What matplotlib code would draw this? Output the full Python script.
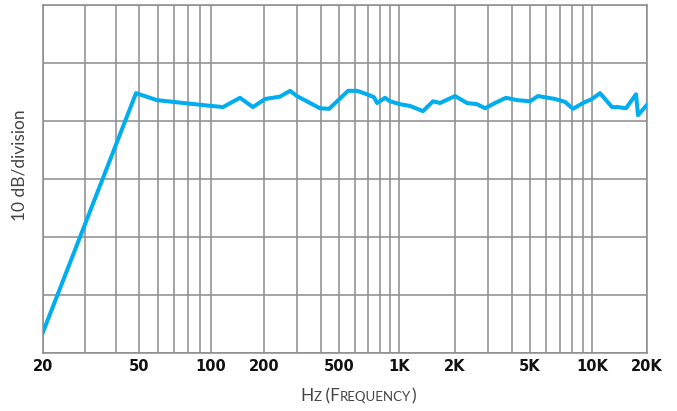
import numpy as np
import matplotlib
matplotlib.use("Agg")
from matplotlib import pyplot as plt
from matplotlib.ticker import FixedLocator, NullFormatter

# frequency response (Hz, dB)
freq = [20, 48.6, 59.4, 69.4, 89.9, 117, 146, 173, 203, 243, 275, 299, 396, 443,
        555, 616, 691, 749, 776, 851, 901, 1012, 1146, 1346, 1523, 1661, 2000,
        2316, 2617, 2885, 3260, 3729, 4266, 5000, 5467, 6614, 7393, 8086, 9044,
        10000, 11060, 12870, 13880, 15350, 17410, 17860, 20000]
level = [3.6, 44.8, 43.6, 43.3, 42.8, 42.4, 44.0, 42.4, 43.8, 44.2, 45.2, 44.3,
         42.2, 42.1, 45.2, 45.2, 44.6, 44.1, 43.1, 44.0, 43.4, 42.9, 42.6, 41.7,
         43.4, 43.1, 44.3, 43.1, 42.9, 42.2, 43.1, 44.0, 43.6, 43.4, 44.3, 43.8,
         43.3, 42.1, 43.1, 43.8, 44.8, 42.4, 42.4, 42.2, 44.6, 41.0, 42.8]

tick_vals = [20, 50, 100, 200, 500, 1000, 2000, 5000, 10000, 20000]
tick_labels = ['20', '50', '100', '200', '500', '1K', '2K', '5K', '10K', '20K']
grid_vals = [20, 30, 40, 50, 60, 70, 80, 90, 100, 200, 300, 400, 500, 600, 700,
             800, 900, 1000, 2000, 3000, 4000, 5000, 6000, 7000, 8000, 9000,
             10000, 20000]

# the printed axis is not a clean log scale (low end is stretched),
# so map log10(f) piecewise onto the drawn gridline spacing
anchor_f = np.log10(tick_vals)
anchor_px = np.array([43, 139, 211, 264, 339, 399, 455, 530, 592, 647], float)


def fwd(x):
    x = np.clip(np.asarray(x, float), 1e-3, None)
    return np.interp(np.log10(x), anchor_f, anchor_px)


def inv(p):
    return 10 ** np.interp(np.asarray(p, float), anchor_px, anchor_f)


W, H = 677, 411
fig = plt.figure(figsize=(W / 100, H / 100), dpi=100)
ax = fig.add_axes([43 / W, (H - 353) / H, 604 / W, 348 / H])

grid_col = '#8c8c8c'
ax.plot(freq, level, color='#00aeef', lw=2.9, solid_joinstyle='round', zorder=3)

ax.set_xscale('function', functions=(fwd, inv))
ax.set_xlim(20, 20000)
ax.set_ylim(0, 60)

ax.xaxis.set_major_locator(FixedLocator(tick_vals))
ax.set_xticklabels(tick_labels, fontsize=10.5, fontweight='bold', color='#111111')
ax.xaxis.set_minor_locator(FixedLocator(grid_vals))
ax.xaxis.set_minor_formatter(NullFormatter())
ax.set_yticks(np.arange(0, 61, 10))
ax.set_yticklabels([])

ax.tick_params(axis='both', which='both', length=0)
ax.tick_params(axis='x', pad=4)
ax.grid(True, which='both', color=grid_col, lw=1.1)
for s in ax.spines.values():
    s.set_color(grid_col)
    s.set_linewidth(1.1)

fig.text(20 / W, 1 - 165 / H, '10 dB/division', rotation=90, ha='center',
         va='center', fontsize=12.5, family='Lato', color='#444444')

# small-caps x label built from pieces
pieces = [('H', 12.5), ('Z', 9.5), (' (F', 12.5), ('REQUENCY', 9.5), (')', 12.5)]
fig.canvas.draw()
r = fig.canvas.get_renderer()
x = 300.0
base_y = 1 - 401 / H
for txt, size in pieces:
    t = fig.text(x / W, base_y, txt, fontsize=size, family='Lato',
                 color='#444444', va='baseline', ha='left')
    x = t.get_window_extent(renderer=r).x1

fig.savefig('out.png', dpi=100)
